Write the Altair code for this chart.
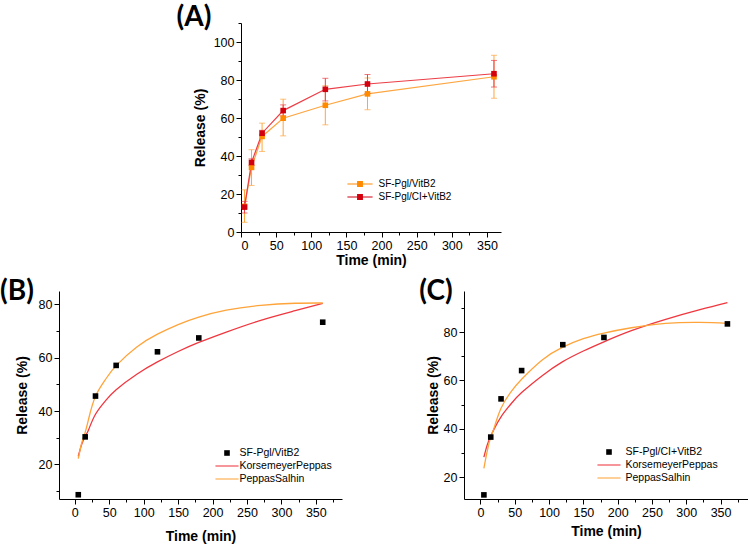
import altair as alt
import pandas as pd

# sampling times (min)
time_min = [5, 15, 30, 60, 120, 180, 360]

# (A) cumulative release (%) with error-bar limits
vit_mean = [13.5, 34.0, 50.3, 59.9, 66.7, 72.7, 81.7]
vit_low = [5.1, 24.5, 42.4, 50.6, 56.4, 64.4, 70.4]
vit_high = [22.2, 43.3, 57.3, 69.9, 77.0, 81.0, 93.0]
ci_mean = [13.1, 36.6, 52.0, 63.9, 75.1, 77.9, 83.3]
ci_low = [10.0, 35.0, 50.5, 61.1, 69.0, 72.9, 76.3]
ci_high = [16.1, 38.5, 53.5, 66.9, 80.9, 82.9, 90.3]

# (B) and (C) experimental points
b_points = [8.6, 30.3, 45.6, 57.1, 62.2, 67.4, 73.3]
c_points = [12.7, 36.6, 52.4, 64.1, 74.8, 77.8, 83.4]

# fitted model curves
fit_time = [5, 10, 15, 20, 30, 45, 60, 90, 120, 150, 180, 220, 270, 320, 360]
b_kp = [23.0, 27.5, 30.5, 33.0, 38.8, 44.0, 48.0, 53.8, 58.4, 62.3, 65.7, 69.6, 74.0, 77.6, 80.4]
b_ps = [22.1, 28.0, 32.0, 37.0, 45.5, 52.0, 57.0, 64.0, 68.8, 72.4, 75.2, 77.8, 79.6, 80.4, 80.5]
c_kp = [28.3, 33.5, 37.0, 40.0, 45.0, 50.5, 55.0, 62.0, 67.8, 72.2, 76.0, 80.6, 85.3, 89.3, 92.2]
c_ps = [23.7, 31.0, 36.6, 40.5, 48.5, 55.5, 60.5, 68.5, 73.8, 77.3, 79.6, 81.8, 83.6, 84.0, 83.6]

names_a = ["SF-Pgl/VitB2", "SF-Pgl/CI+VitB2"]
names_b = ["SF-Pgl/VitB2", "KorsemeyerPeppas", "PeppasSalhin"]
names_c = ["SF-Pgl/CI+VitB2", "KorsemeyerPeppas", "PeppasSalhin"]

ORANGE_LINE = "#FFA53F"
ORANGE_MARK = "#FF8A00"
RED_LINE = "#EC3E46"
RED_MARK = "#D3000E"
FIT_RED = "#F0363E"
FIT_ORANGE = "#FFA43A"

# symbol paths: square marker, thin line, line with square
SQ = "M-0.4,-0.4H0.4V0.4H-0.4Z"
LINE = "M-1.65,-0.075H1.65V0.075H-1.65Z"
LINE_SQ = "M-1.8,-0.075H1.8V0.075H-1.8Z M-0.42,-0.42H0.42V0.42H-0.42Z"

FONT = "Liberation Sans"


def make_axis(title, values, major, title_pad):
    return alt.Axis(
        title=title,
        values=values,
        grid=False,
        labelExpr=f"datum.value % {major} === 0 ? datum.label : ''",
        tickSize={"condition": {"test": f"datum.value % {major} === 0", "value": 5}, "value": 3},
        tickColor="black",
        domainColor="black",
        labelColor="black",
        labelFont=FONT,
        labelFontSize=12.5,
        labelPadding=2,
        titleFont=FONT,
        titleFontSize=14,
        titleFontWeight="bold",
        titleColor="black",
        titlePadding=title_pad,
    )


def panel_label(text, dx, dy):
    return alt.Chart(pd.DataFrame({"lab": [text]})).mark_text(
        font="Lato", fontSize=28, fontWeight="bold", align="center", baseline="middle", color="black"
    ).encode(text="lab:N", x=alt.value(dx), y=alt.value(dy))


# ---------- (A) ----------
dfA = pd.DataFrame({
    "t": time_min * 2,
    "series": [names_a[0]] * 7 + [names_a[1]] * 7,
    "mean": vit_mean + ci_mean,
    "lo": vit_low + ci_low,
    "hi": vit_high + ci_high,
})
xA = alt.X("t:Q", scale=alt.Scale(domain=[0, 370], nice=False, zero=False),
           axis=make_axis("Time (min)", list(range(0, 351, 25)), 50, 2))
yA_axis = make_axis("Release (%)", list(range(0, 111, 10)), 20, 6)
yA_scale = alt.Scale(domain=[0, 110], nice=False, zero=False)

layersA = []
for name, lc in [(names_a[0], ORANGE_LINE), (names_a[1], RED_LINE)]:
    base = alt.Chart(dfA).transform_filter(alt.datum.series == name)
    layersA.append(base.mark_errorbar(ticks=True, size=6, thickness=1, color=lc).encode(
        x=xA, y=alt.Y("lo:Q", scale=yA_scale, axis=yA_axis), y2="hi:Q"))
    layersA.append(base.mark_line(color=lc, strokeWidth=1.2).encode(
        x=xA, y=alt.Y("mean:Q", scale=yA_scale, axis=yA_axis)))

squaresA = alt.Chart(dfA).mark_point(filled=True, opacity=1, size=196, shape=SQ).encode(
    x=xA,
    y=alt.Y("mean:Q", scale=yA_scale, axis=yA_axis),
    color=alt.Color("series:N", sort=names_a,
                    scale=alt.Scale(domain=names_a, range=[ORANGE_MARK, RED_MARK]),
                    legend=alt.Legend(title=None, orient="none", legendX=112, legendY=154,
                                      symbolType=LINE_SQ, symbolSize=196, symbolStrokeWidth=0,
                                      labelFont=FONT, labelFontSize=10, labelColor="black",
                                      labelOffset=11.5, padding=0, rowPadding=1)),
)
chartA = alt.layer(*layersA, squaresA, panel_label("(A)", -47, -5)).properties(width=260, height=209)


# ---------- (B) and (C) ----------
def fit_panel(points, kp, ps, names, xdom, ydom, yvals, ytitle_pad, xtitle_pad,
              leg_x, leg_y, lab_off, label, label_dx):
    dfp = pd.DataFrame({"t": time_min, "v": points, "series": names[0]})
    dff = pd.DataFrame({"t": fit_time, "kp": kp, "ps": ps})
    x = alt.X("t:Q", scale=alt.Scale(domain=xdom, nice=False, zero=False),
              axis=make_axis("Time (min)", list(range(0, 376, 25)), 50, xtitle_pad))
    ys = alt.Scale(domain=ydom, nice=False, zero=False)
    yax = make_axis("Release (%)", yvals, 20, ytitle_pad)
    kp_line = alt.Chart(dff).mark_line(color=FIT_RED, strokeWidth=1.3, interpolate="natural").encode(
        x=x, y=alt.Y("kp:Q", scale=ys, axis=yax))
    ps_line = alt.Chart(dff).mark_line(color=FIT_ORANGE, strokeWidth=1.3, interpolate="natural").encode(
        x=x, y=alt.Y("ps:Q", scale=ys, axis=yax))
    leg = alt.Legend(title=None, orient="none", legendX=leg_x, legendY=leg_y,
                     symbolSize=196, symbolStrokeWidth=0,
                     labelFont=FONT, labelFontSize=10.5, labelColor="black",
                     labelOffset=lab_off, padding=0, rowPadding=0)
    pts = alt.Chart(dfp).mark_point(filled=True, opacity=1, size=196).encode(
        x=x,
        y=alt.Y("v:Q", scale=ys, axis=yax),
        color=alt.Color("series:N", sort=names,
                        scale=alt.Scale(domain=names, range=["black", FIT_RED, FIT_ORANGE]), legend=leg),
        shape=alt.Shape("series:N", sort=names,
                        scale=alt.Scale(domain=names, range=[SQ, LINE, LINE]), legend=leg),
    )
    return alt.layer(kp_line, ps_line, pts, panel_label(label, label_dx, 1))


chartB = fit_panel(b_points, b_kp, b_ps, names_b, [-23, 388], [7, 85], list(range(10, 81, 10)),
                   9, 11, 161, 155, 5.5, "(B)", -42).properties(width=283, height=208)
chartC = fit_panel(c_points, c_kp, c_ps, names_c, [-24, 390], [11, 97], list(range(20, 91, 10)),
                   3, 6, 138, 154, 9.5, "(C)", -28).properties(width=284, height=208)

spacer = alt.Chart(pd.DataFrame({"v": [0]})).mark_point(opacity=0).properties(width=117, height=209)

top = alt.hconcat(spacer, chartA, spacing=0).resolve_scale(color="independent", shape="independent")
bottom = alt.hconcat(chartB, chartC, spacing=77).resolve_scale(color="independent", shape="independent")

chart = alt.vconcat(top, bottom, spacing=10).resolve_scale(
    color="independent", shape="independent"
).properties(
    padding={"left": 0, "top": 4, "right": 0, "bottom": 0},
    background="white",
).configure_view(stroke=None)

chart.save("out.html", embed_options={"renderer": "svg", "actions": False})
